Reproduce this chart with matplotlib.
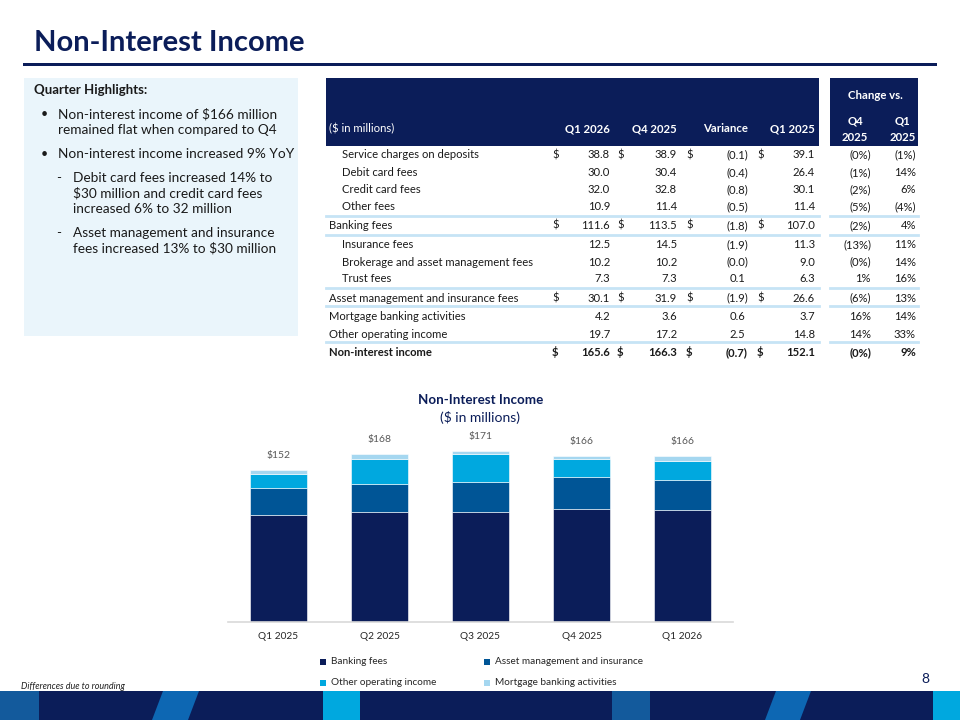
import matplotlib
matplotlib.use("Agg")
import matplotlib.pyplot as plt
from matplotlib.patches import Rectangle, Polygon

plt.rcParams["font.family"] = ["Lato", "DejaVu Sans"]
plt.rcParams["text.parse_math"] = False

NAVY = "#0b1d59"
MID = "#005596"
CYAN = "#00a8df"
LIGHT = "#a5d7f0"
RULE = "#c6e4f5"

# chart data ($ in millions)
quarters = ["Q1 2025", "Q2 2025", "Q3 2025", "Q4 2025", "Q1 2026"]
banking = [107.0, 110.0, 110.5, 113.5, 111.6]
asset_mgmt = [26.6, 28.3, 29.5, 31.9, 30.1]
other_op = [14.8, 24.4, 28.2, 17.2, 19.7]
mortgage = [3.7, 5.0, 2.8, 3.6, 4.2]
total_labels = ["$152", "$168", "$171", "$166", "$166"]

# table data
row_labels = ["Service charges on deposits", "Debit card fees", "Credit card fees",
              "Other fees", "Banking fees", "Insurance fees",
              "Brokerage and asset management fees", "Trust fees",
              "Asset management and insurance fees", "Mortgage banking activities",
              "Other operating income", "Non-interest income"]
q1_2026 = [38.8, 30.0, 32.0, 10.9, 111.6, 12.5, 10.2, 7.3, 30.1, 4.2, 19.7, 165.6]
q4_2025 = [38.9, 30.4, 32.8, 11.4, 113.5, 14.5, 10.2, 7.3, 31.9, 3.6, 17.2, 166.3]
variance = [-0.1, -0.4, -0.8, -0.5, -1.8, -1.9, -0.0, 0.1, -1.9, 0.6, 2.5, -0.7]
q1_2025 = [39.1, 26.4, 30.1, 11.4, 107.0, 11.3, 9.0, 6.3, 26.6, 3.7, 14.8, 152.1]
chg_q4 = ["(0%)", "(1%)", "(2%)", "(5%)", "(2%)", "(13%)", "(0%)", "1%", "(6%)",
          "16%", "14%", "(0%)"]
chg_q1 = ["(1%)", "14%", "6%", "(4%)", "4%", "11%", "14%", "16%", "13%", "14%",
          "33%", "9%"]
indented = [0, 1, 2, 3, 5, 6, 7]
dollar_rows = [0, 4, 8, 11]

# (marker, text, indent, y)
highlights = [
    ("•", "Non-interest income of $166 million", 58, 114),
    ("", "remained flat when compared to Q4", 58, 130),
    ("•", "Non-interest income increased 9% YoY", 58, 154),
    ("-", "Debit card fees increased 14% to", 73, 178),
    ("", "$30 million and credit card fees", 73, 193.5),
    ("", "increased 6% to 32 million", 73, 209),
    ("-", "Asset management and insurance", 73, 233),
    ("", "fees increased 13% to $30 million", 73, 248.5),
]

fig = plt.figure(figsize=(9.6, 7.2), dpi=100)
bg = fig.add_axes([0, 0, 1, 1])
bg.set_xlim(0, 960)
bg.set_ylim(720, 0)
bg.axis("off")

# title and rule
bg.text(34, 43, "Non-Interest Income", fontsize=21, fontweight="bold", color=NAVY,
        va="center")
bg.add_patch(Rectangle((23, 62.5), 914, 3.5, color=NAVY, lw=0))

# highlights panel
bg.add_patch(Rectangle((24, 78), 274, 258, color="#eaf5fb", lw=0))
bg.text(34, 90, "Quarter Highlights:", fontsize=9.5, fontweight="bold", color="#1a1a1a",
        va="center")
for mark, line, x, y in highlights:
    if mark == "•":
        bg.text(41, y, mark, fontsize=9, color="#1a1a1a", va="center")
    elif mark == "-":
        bg.text(56, y, mark, fontsize=9.5, color="#1a1a1a", va="center")
    bg.text(x, y, line, fontsize=9.8, color="#1a1a1a", va="center")

# table header
bg.add_patch(Rectangle((326, 78), 493, 67.5, color=NAVY, lw=0))
bg.add_patch(Rectangle((830, 78), 88, 67.5, color=NAVY, lw=0))
hdr = dict(fontsize=8.2, color="white", va="center")
bg.text(329, 129, "($ in millions)", **hdr)
for xr, name in [(610, "Q1 2026"), (677, "Q4 2025"), (748, "Variance"), (815, "Q1 2025")]:
    bg.text(xr, 129, name, ha="right", fontweight="bold", **hdr)
bg.text(875, 95.5, "Change vs.", ha="center", fontweight="bold", **hdr)
for xc, q in [(855, "Q4"), (902.5, "Q1")]:
    bg.text(xc, 121, q, ha="center", fontweight="bold", **hdr)
    bg.text(xc, 137.5, "2025", ha="center", fontweight="bold", **hdr)

# table rows
row_y = [155, 172.5, 189.5, 206.5, 225.5, 245, 262, 279, 298, 316.5, 334, 352.5]


def fmt(v):
    s = f"{abs(v):.1f}"
    return f"({s})" if str(v).startswith("-") else s


for i, label in enumerate(row_labels):
    y = row_y[i]
    kw = dict(fontsize=8.1, color="#1a1a1a", va="center")
    if i == 11:
        kw["fontweight"] = "bold"
    bg.text(342 if i in indented else 329, y, label, **kw)
    if i in dollar_rows:
        for xd in (552, 617, 686, 757):
            bg.text(xd, y, "$", **kw)
    bg.text(610, y, f"{q1_2026[i]:.1f}", ha="right", **kw)
    bg.text(677, y, f"{q4_2025[i]:.1f}", ha="right", **kw)
    vs = fmt(variance[i])
    bg.text(748 if vs.endswith(")") else 745, y, vs, ha="right", **kw)
    bg.text(815, y, f"{q1_2025[i]:.1f}", ha="right", **kw)
    bg.text(871, y, chg_q4[i], ha="right", **kw)
    bg.text(916, y, chg_q1[i], ha="right", **kw)

for yl in (215.5, 235, 288, 306, 342):
    bg.plot([326, 819], [yl, yl], color=RULE, lw=2)
    bg.plot([830, 918], [yl, yl], color=RULE, lw=2)

# chart title
bg.text(480.5, 400, "Non-Interest Income", ha="center", va="center", fontsize=9.6,
        fontweight="bold", color=NAVY)
bg.text(480.5, 417.5, "($ in millions)", ha="center", va="center", fontsize=10,
        color=NAVY)

# stacked bars
ax = fig.add_axes([228 / 960, 98 / 720, 505 / 960, 200 / 720])
ax.set_xlim(-0.5, 4.5)
ax.set_ylim(0, 200)
x = range(len(quarters))
bottom = [0] * len(quarters)
series = [(banking, NAVY, "Banking fees"),
          (asset_mgmt, MID, "Asset management and insurance"),
          (other_op, CYAN, "Other operating income"),
          (mortgage, LIGHT, "Mortgage banking activities")]
for vals, col, name in series:
    ax.bar(x, vals, 0.565, bottom=bottom, color=col, edgecolor="white", linewidth=0.4,
           label=name)
    bottom = [b + v for b, v in zip(bottom, vals)]
for i, tot in enumerate(bottom):
    ax.text(i, tot + 14.5, total_labels[i], ha="center", va="center", fontsize=7.5,
            color="#595959")
ax.set_xticks(list(x), quarters)
ax.tick_params(axis="x", length=0, pad=7, labelsize=7.3, labelcolor="#262626")
ax.set_yticks([])
for s in ("top", "left", "right"):
    ax.spines[s].set_visible(False)
ax.spines["bottom"].set_color("#d9d9d9")
ax.spines["bottom"].set_linewidth(1.2)
ax.patch.set_alpha(0)

# legend
leg_pos = [(323, 661.5), (487, 661.5), (323, 682.5), (487, 682.5)]
for (lx, ly), (vals, col, name) in zip(leg_pos, series):
    bg.add_patch(Rectangle((lx - 3, ly - 3), 6, 6, color=col, lw=0))
    bg.text(lx + 8, ly, name, fontsize=7.2, color="#262626", va="center")

bg.text(21, 686.5, "Differences due to rounding", fontsize=6.5, style="italic",
        color="#222222", va="center")
bg.text(925, 679, "8", fontsize=10, color=NAVY, ha="center", va="center")

# footer band
bg.add_patch(Rectangle((0, 691), 960, 29, color=NAVY, lw=0))
bg.add_patch(Rectangle((0, 691), 38.5, 29, color="#135a9c", lw=0))
bg.add_patch(Polygon([(152, 720), (188, 720), (199, 691), (163, 691)], color="#0d67b3",
                     lw=0))
bg.add_patch(Rectangle((322.5, 691), 37, 29, color=CYAN, lw=0))
bg.add_patch(Rectangle((612, 691), 38, 29, color="#135a9c", lw=0))
bg.add_patch(Polygon([(765, 720), (800, 720), (811, 691), (776, 691)], color="#0d67b3",
                     lw=0))
bg.add_patch(Rectangle((933, 691), 27, 29, color=CYAN, lw=0))

fig.savefig("out.png", dpi=100)
